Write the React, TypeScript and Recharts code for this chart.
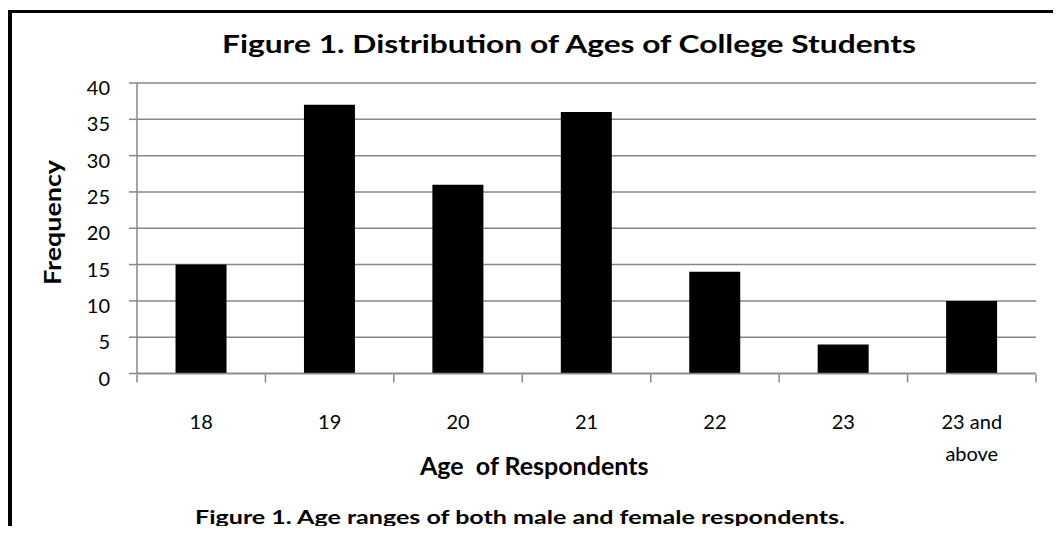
import React from 'react';
import { BarChart, Bar, XAxis, YAxis, CartesianGrid } from 'recharts';

const categories = ['18', '19', '20', '21', '22', '23', '23 and above'];
const frequencies = [15, 37, 26, 36, 14, 4, 10];
const yTicks = [0, 5, 10, 15, 20, 25, 30, 35, 40];
const edgeTicks = [0, 1, 2, 3, 4, 5, 6, 7];

const title = 'Figure 1. Distribution of Ages of College Students';
const xTitle = 'Age  of Respondents';
const yTitle = 'Frequency';
const caption = 'Figure 1. Age ranges of both male and female respondents.';

const data = categories.map((c, i) => ({ age: c, freq: frequencies[i], slot: i + 0.5 }));

const FONT = 'Lato, "Open Sans", sans-serif';
const GRID = '#878787';

const XTick = (props: any) => {
  const { x, y, payload } = props;
  const v: string = payload.value;
  const lines = v === '23 and above' ? ['23 and', 'above'] : [v];
  return (
    <text x={x} y={y} textAnchor="middle" fill="#000" fontSize={20} fontFamily={FONT}>
      {lines.map((l, i) => (
        <tspan key={i} x={x} y={y + 55 + i * 32}>{l}</tspan>
      ))}
    </text>
  );
};

const EmptyTick = () => <g />;

const YTick = (props: any) => {
  const { x, y, payload } = props;
  return (
    <text x={x} y={y + 12} textAnchor="end" fill="#000" fontSize={20} fontFamily={FONT}>
      {payload.value}
    </text>
  );
};

export default function App() {
  return (
    <div style={{ position: 'relative', width: 1053, height: 518, fontFamily: FONT }}>
      <style>{'html,body{overflow:hidden}'}</style>
      <div
        style={{
          position: 'absolute',
          left: 0,
          top: 2,
          width: 1053,
          height: 530,
          borderLeft: '4px solid #000',
          borderTop: '3px solid #000',
          boxSizing: 'border-box',
        }}
      />
      <div style={{ position: 'absolute', left: 0, top: 0 }}>
        <BarChart
          width={1040}
          height={520}
          data={data}
          margin={{ top: 75, right: 12, bottom: 152.5, left: 0 }}
          barCategoryGap="30%"
        >
          <CartesianGrid xAxisId="cat" horizontal vertical={false} stroke={GRID} strokeWidth={1.5} />
          <XAxis
            xAxisId="cat"
            dataKey="age"
            height={1}
            interval={0}
            axisLine={{ stroke: GRID, strokeWidth: 1.5 }}
            tickLine={false}
            tickSize={0}
            tickMargin={0}
            tick={<XTick />}
          />
          <XAxis
            xAxisId="edges"
            dataKey="slot"
            type="number"
            domain={[0, 7]}
            allowDataOverflow
            ticks={edgeTicks}
            interval={0}
            height={1}
            tick={<EmptyTick />}
            tickSize={8}
            tickLine={{ stroke: GRID, strokeWidth: 1.5 }}
            axisLine={false}
          />
          <YAxis
            width={129}
            domain={[0, 40]}
            ticks={yTicks}
            interval={0}
            tickSize={8}
            tickMargin={19}
            tickLine={{ stroke: GRID, strokeWidth: 1.5 }}
            axisLine={{ stroke: GRID, strokeWidth: 1.5 }}
            tick={<YTick />}
          />
          <Bar xAxisId="cat" dataKey="freq" fill="#000" isAnimationActive={false} />
        </BarChart>
      </div>
      <svg
        width={1053}
        height={526}
        style={{ position: 'absolute', left: 0, top: 0, pointerEvents: 'none' }}
      >
        <text
          x={561}
          y={45}
          textAnchor="middle"
          fontSize={25}
          fontWeight="bold"
          fontFamily={FONT}
          fill="#000"
          textLength={694}
          lengthAdjust="spacingAndGlyphs"
        >
          {title}
        </text>
        <text x={412} y={467} textAnchor="start" fontSize={25} fontWeight="bold" fontFamily={FONT} fill="#000" style={{ whiteSpace: 'pre' }}>
          {xTitle}
        </text>
        <text
          x={512}
          y={516}
          textAnchor="middle"
          fontSize={19}
          fontWeight="bold"
          fontFamily={FONT}
          fill="#000"
          textLength={650}
          lengthAdjust="spacingAndGlyphs"
        >
          {caption}
        </text>
        <text
          x={44.5}
          y={214.5}
          textAnchor="middle"
          dominantBaseline="central"
          fontSize={22}
          fontWeight="bold"
          fontFamily={FONT}
          fill="#000"
          textLength={125}
          lengthAdjust="spacingAndGlyphs"
          transform="rotate(-90 44.5 214.5)"
        >
          {yTitle}
        </text>
      </svg>
    </div>
  );
}
